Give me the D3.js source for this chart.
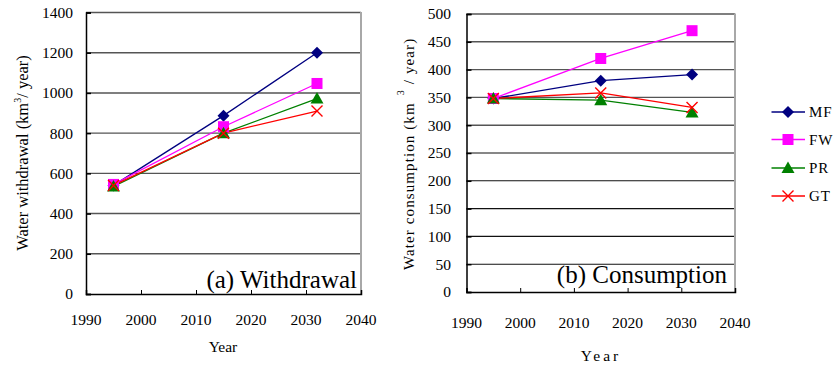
<!DOCTYPE html>
<html><head><meta charset="utf-8">
<script src="https://cdn.jsdelivr.net/npm/d3@7"></script>
<style>
html,body{margin:0;padding:0;background:#fff;}
svg text{font-family:"Liberation Serif","Times New Roman",serif;fill:#000;}
</style></head>
<body><svg id="c" width="833" height="367" font-family="Liberation Serif"></svg>
<script>
const years = [1995, 2015, 2032];
const seriesNames = ["MF", "FW", "PR", "GT"];
const colors = ["#000080", "#ff00ff", "#008000", "#ff0000"];
const withdrawalMF = [540, 887, 1200];
const withdrawalFW = [545, 832, 1047];
const withdrawalPR = [535, 800, 972];
const withdrawalGT = [540, 800, 910];
const consumptionMF = [348, 380, 391];
const consumptionFW = [348, 420, 470];
const consumptionPR = [348, 345, 323];
const consumptionGT = [348, 358, 332];
const xTicks = [1990, 2000, 2010, 2020, 2030, 2040];
const yTicksA = [0, 200, 400, 600, 800, 1000, 1200, 1400];
const yTicksB = [0, 50, 100, 150, 200, 250, 300, 350, 400, 450, 500];

const svg = d3.select("#c");

function marker(g, type, x, y, color) {
  if (type === "MF") {
    g.append("path").attr("d", `M${x},${y - 6}L${x + 6},${y}L${x},${y + 6}L${x - 6},${y}Z`).attr("fill", color);
  } else if (type === "FW") {
    g.append("rect").attr("x", x - 5.5).attr("y", y - 5.5).attr("width", 11).attr("height", 11).attr("fill", color);
  } else if (type === "PR") {
    g.append("path").attr("d", `M${x},${y - 6.5}L${x + 6.5},${y + 5}L${x - 6.5},${y + 5}Z`).attr("fill", color);
  } else {
    g.append("path").attr("d", `M${x - 5.5},${y - 5.5}L${x + 5.5},${y + 5.5}M${x + 5.5},${y - 5.5}L${x - 5.5},${y + 5.5}`).attr("stroke", color).attr("stroke-width", 1.4).attr("fill", "none");
  }
}

function panel(cfg) {
  const g = svg.append("g");
  const x = d3.scaleLinear().domain([1990, 2040]).range(cfg.xr);
  const y = d3.scaleLinear().domain(cfg.yd).range(cfg.yr);
  cfg.yTicks.forEach(v => {
    if (v === 0) return;
    g.append("line").attr("x1", cfg.xr[0]).attr("x2", cfg.xr[1]).attr("y1", y(v)).attr("y2", y(v))
      .attr("stroke", cfg.grid(v)).attr("stroke-width", cfg.gw(v));
  });
  g.append("line").attr("x1", cfg.xr[1]).attr("x2", cfg.xr[1]).attr("y1", cfg.yr[1] - 0.5).attr("y2", cfg.yr[0])
    .attr("stroke", "#a8a8a8").attr("stroke-width", 2);
  const ya = g.append("g").attr("transform", `translate(${cfg.xr[0]},0)`)
    .call(d3.axisRight(y).tickValues(cfg.yTicks).tickSize(5).tickFormat(""));
  ya.select(".domain").attr("stroke", "#000").attr("stroke-width", 1.5);
  ya.selectAll(".tick line").attr("stroke", "#000").attr("stroke-width", 1.5);
  const xa = g.append("g").attr("transform", `translate(0,${cfg.yr[0]})`)
    .call(d3.axisTop(x).tickValues(xTicks).tickSize(4).tickFormat(""));
  xa.select(".domain").attr("stroke", "#000").attr("stroke-width", 1.5);
  xa.selectAll(".tick line").attr("stroke", "#000").attr("stroke-width", 1);
  cfg.yTicks.forEach(v => {
    g.append("text").attr("x", cfg.ylx).attr("y", y(v)).attr("dy", "0.35em").attr("text-anchor", "end")
      .attr("font-size", 15.5).text(v);
  });
  xTicks.forEach(v => {
    g.append("text").attr("x", x(v)).attr("y", cfg.xly).attr("text-anchor", "middle")
      .attr("font-size", 15.5).text(v);
  });
  g.append("text").attr("x", cfg.labX).attr("y", cfg.labY).attr("text-anchor", "end")
    .attr("font-size", 25).text(cfg.label);
  cfg.data.forEach((vals, i) => {
    const line = d3.line().x((d, j) => x(years[j])).y(d => y(d));
    g.append("path").attr("d", line(vals)).attr("fill", "none").attr("stroke", colors[i]).attr("stroke-width", 1.3);
  });
  cfg.data.forEach((vals, i) => {
    vals.forEach((v, j) => marker(g, seriesNames[i], x(years[j]), y(v), colors[i]));
  });
  return g;
}

panel({
  xr: [86, 361], yd: [0, 1400], yr: [294, 12.5], yTicks: yTicksA,
  grid: v => "#555", gw: v => 1.4,
  ylx: 73, xly: 325, labX: 357, labY: 288, label: "(a) Withdrawal",
  data: [withdrawalMF, withdrawalFW, withdrawalPR, withdrawalGT]
});
panel({
  xr: [466.5, 735], yd: [0, 500], yr: [292, 14], yTicks: yTicksB,
  grid: v => v >= 300 ? "#555" : "#111", gw: v => v >= 300 ? 1.4 : 1.1,
  ylx: 451, xly: 328, labX: 727, labY: 283, label: "(b) Consumption",
  data: [consumptionMF, consumptionFW, consumptionPR, consumptionGT]
});

svg.append("text").attr("x", 223).attr("y", 352).attr("text-anchor", "middle").attr("font-size", 15.5).text("Year");
svg.append("text").attr("x", 601).attr("y", 361).attr("text-anchor", "middle").attr("font-size", 15.5)
  .attr("letter-spacing", 3).text("Year");

const ta = svg.append("text").attr("transform", "translate(28,153) rotate(-90)").attr("text-anchor", "middle").attr("font-size", 16.5);
ta.append("tspan").text("Water withdrawal (km");
ta.append("tspan").attr("font-size", 10).attr("dy", -7).text("3");
ta.append("tspan").attr("dy", 7).text("/ year)");

const tb = svg.append("text").attr("transform", "translate(414,270) rotate(-90)").attr("text-anchor", "start").attr("font-size", 15).attr("letter-spacing", 1.1);
tb.append("tspan").text("Water consumption (km");
tb.append("tspan").attr("font-size", 10).attr("dx", 7).attr("dy", -10).text("3");
tb.append("tspan").attr("dx", 5).attr("dy", 10).text("/ year)");

const lg = svg.append("g");
const legY = [112, 139.5, 168, 196];
seriesNames.forEach((n, i) => {
  lg.append("line").attr("x1", 771.5).attr("x2", 805).attr("y1", legY[i]).attr("y2", legY[i]).attr("stroke", colors[i]).attr("stroke-width", 1.5);
  marker(lg, n, 788, legY[i], colors[i]);
  lg.append("text").attr("x", 809).attr("y", legY[i]).attr("dy", "0.35em").attr("font-size", 15).attr("letter-spacing", 1).text(n);
});
</script></body></html>
